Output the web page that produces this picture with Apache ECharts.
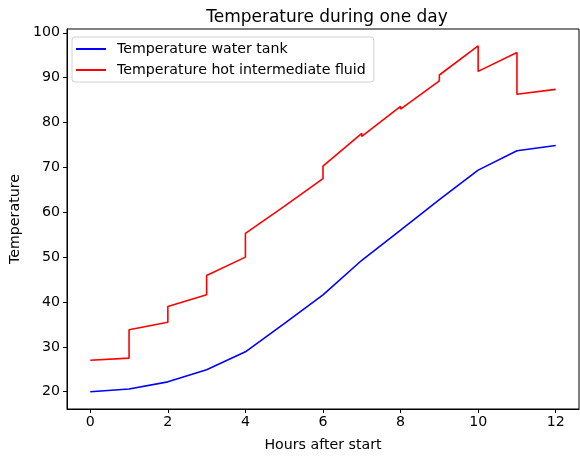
<!DOCTYPE html>
<html>
<head>
<meta charset="utf-8">
<script src="https://cdn.jsdelivr.net/npm/echarts@6/dist/echarts.min.js"></script>
<style>
  html, body { margin: 0; padding: 0; background: #fff; }
  #chart { width: 580px; height: 457px; }
</style>
</head>
<body>
<div id="chart"></div>
<script>
// Water tank temperature, one reading per hour
const tankHours = [0, 1, 2, 3, 4, 5, 6, 7, 8, 9, 10, 11, 12];
const tankTemps = [20.0, 20.6, 22.2, 24.9, 28.9, 35.2, 41.6, 49.3, 56.0, 62.8, 69.4, 73.7, 74.9];

// Hot intermediate fluid: each hour has the value before and after a step
const fluidHours = [0, 1, 1, 2, 2, 3, 3, 4, 4, 5, 5, 6, 6, 7, 7, 8, 8, 9, 9, 10, 10, 11, 11, 12];
const fluidTemps = [27.0, 27.5, 33.8, 35.5, 39.0, 41.6, 45.9, 50.0, 55.3, 61.3, 61.6, 67.5, 70.3,
                    77.6, 76.9, 83.6, 83.0, 89.3, 90.6, 97.1, 91.4, 95.6, 86.3, 87.4];

const xTicks = [0, 2, 4, 6, 8, 10, 12];
const yTicks = [20, 30, 40, 50, 60, 70, 80, 90, 100];

const FONT = 'DejaVu Sans';
const TXT = 14.2;
const pair = (xs, ys) => xs.map((x, i) => [x, ys[i]]);

const chart = echarts.init(document.getElementById('chart'), null, { renderer: 'canvas' });
chart.setOption({
  animation: false,
  backgroundColor: '#fff',
  title: {
    text: 'Temperature during one day',
    left: 322, top: 4, textAlign: 'center',
    textStyle: { fontFamily: FONT, fontSize: 17, fontWeight: 'normal', color: '#000' }
  },
  legend: {
    orient: 'vertical',
    left: 72, top: 37,
    padding: [5, 8, 5, 4],
    itemGap: 7,
    itemWidth: 30, itemHeight: 2,
    icon: 'rect',
    borderColor: '#d0d0d0', borderWidth: 1, borderRadius: 3,
    backgroundColor: 'rgba(255,255,255,0.8)',
    textStyle: { fontFamily: FONT, fontSize: TXT, color: '#000', padding: [0, 0, 0, 6] },
    data: ['Temperature water tank', 'Temperature hot intermediate fluid']
  },
  grid: {
    left: 64, right: 1, top: 29, bottom: 43,
    show: true, borderColor: '#000', borderWidth: 1
  },
  xAxis: {
    type: 'value', min: -0.6, max: 12.6,
    name: 'Hours after start', nameLocation: 'middle', nameGap: 29,
    nameTextStyle: { fontFamily: FONT, fontSize: TXT, color: '#000' },
    axisLine: { show: true, onZero: false, lineStyle: { color: '#000', width: 1 } },
    axisTick: { show: true, inside: false, length: 4, lineStyle: { color: '#000' }, customValues: xTicks },
    axisLabel: { fontFamily: FONT, fontSize: TXT, color: '#000', margin: 6, customValues: xTicks,
                 showMinLabel: true, showMaxLabel: true },
    splitLine: { show: false }
  },
  yAxis: {
    type: 'value', min: 16.15, max: 100.85,
    name: 'Temperature', nameLocation: 'middle', nameGap: 45, nameRotate: 90,
    nameTextStyle: { fontFamily: FONT, fontSize: TXT, color: '#000' },
    axisLine: { show: true, onZero: false, lineStyle: { color: '#000', width: 1 } },
    axisTick: { show: true, inside: false, length: 4, lineStyle: { color: '#000' }, customValues: yTicks },
    axisLabel: { fontFamily: FONT, fontSize: TXT, color: '#000', margin: 7, customValues: yTicks },
    splitLine: { show: false }
  },
  series: [
    {
      name: 'Temperature water tank', type: 'line',
      data: pair(tankHours, tankTemps),
      showSymbol: false, symbol: 'none',
      lineStyle: { color: '#0000ff', width: 1.6 },
      itemStyle: { color: '#0000ff' }
    },
    {
      name: 'Temperature hot intermediate fluid', type: 'line',
      data: pair(fluidHours, fluidTemps),
      showSymbol: false, symbol: 'none',
      lineStyle: { color: '#ff0000', width: 1.6 },
      itemStyle: { color: '#ff0000' }
    }
  ]
});
</script>
</body>
</html>
